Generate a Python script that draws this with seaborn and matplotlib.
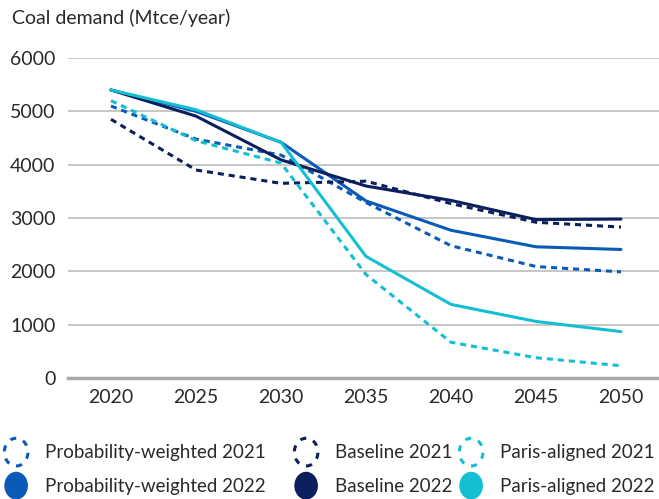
import matplotlib
matplotlib.use("Agg")
import matplotlib.pyplot as plt
import seaborn as sns
import pandas as pd
from matplotlib.patches import Ellipse
from matplotlib.legend_handler import HandlerPatch
import matplotlib.patches as mpatches

years = [2020, 2025, 2030, 2035, 2040, 2045, 2050]
prob_2021 = [5100, 4480, 4180, 3290, 2480, 2090, 1990]
prob_2022 = [5400, 5000, 4420, 3320, 2770, 2460, 2410]
base_2021 = [4850, 3900, 3650, 3690, 3270, 2920, 2830]
base_2022 = [5400, 4910, 4090, 3600, 3330, 2970, 2980]
paris_2021 = [5200, 4450, 4030, 1940, 670, 380, 230]
paris_2022 = [5400, 5030, 4420, 2280, 1380, 1060, 870]

scenarios = ["Probability-weighted", "Baseline", "Paris-aligned"]
colors = {"Probability-weighted": "#0A5BB8", "Baseline": "#0B1F5C", "Paris-aligned": "#14BFD3"}

rows = []
for sc, d21, d22 in [("Probability-weighted", prob_2021, prob_2022),
                     ("Baseline", base_2021, base_2022),
                     ("Paris-aligned", paris_2021, paris_2022)]:
    for y, v in zip(years, d21):
        rows.append({"year": y, "value": v, "scenario": sc, "edition": "2021"})
    for y, v in zip(years, d22):
        rows.append({"year": y, "value": v, "scenario": sc, "edition": "2022"})
df = pd.DataFrame(rows)

sns.set_style("white")
plt.rcParams["font.family"] = ["Lato", "DejaVu Sans"]
FS = 14

fig = plt.figure(figsize=(6.59, 4.99), dpi=100)
ax = fig.add_axes([68/659, 1-378/499, 1-68/659, (378-58)/499])

sns.lineplot(data=df, x="year", y="value", hue="scenario", style="edition",
             palette=colors, hue_order=scenarios,
             dashes={"2021": (2.0, 1.6), "2022": ""}, style_order=["2021", "2022"],
             linewidth=2.2, ax=ax, legend=False)

ax.set_xlim(2020 - 43/17, 2050 + 38/17)
ax.set_ylim(0, 6000)
ax.set_xticks(years)
ax.set_yticks([0, 1000, 2000, 3000, 4000, 5000, 6000])
ax.set_xlabel("")
ax.set_ylabel("")
ax.grid(axis="y", color="#bdbdbd", linewidth=1.2)
ax.set_axisbelow(True)
for s in ["top", "right", "left"]:
    ax.spines[s].set_visible(False)
ax.spines["bottom"].set_color("#a8a8a8")
ax.spines["bottom"].set_linewidth(2.5)
ax.tick_params(axis="both", length=0, labelsize=FS, colors="#2a2a2a")
ax.tick_params(axis="x", pad=8)
ax.tick_params(axis="y", pad=9)

fig.text(12/659, 1-18/499, "Coal demand (Mtce/year)", fontsize=FS,
         color="#2a2a2a", va="center", ha="left")


class HandlerCircle(HandlerPatch):
    def create_artists(self, legend, orig_handle, xdescent, ydescent, width, height, fontsize, trans):
        cx = 0.5 * width - xdescent
        cy = 0.5 * height - ydescent
        e = Ellipse((cx, cy), width=17, height=20)
        self.update_prop(e, orig_handle, legend)
        e.set_transform(trans)
        return [e]


col_left_px = [3, 293, 458]
for sc, xl in zip(scenarios, col_left_px):
    h21 = mpatches.Patch(facecolor="none", edgecolor=colors[sc], linestyle=(0, (2, 2.4)), linewidth=2.2)
    h22 = mpatches.Patch(facecolor=colors[sc], edgecolor=colors[sc], linewidth=0)
    hs = [h21, h22]
    leg = fig.legend(hs, [f"{sc} 2021", f"{sc} 2022"],
                     handler_map={h: HandlerCircle() for h in hs}, ncol=1,
                     loc="upper left", bbox_to_anchor=(xl/659, 1-441/499), frameon=False,
                     fontsize=13.5, handlelength=1.4, handleheight=1.45,
                     handletextpad=0.85, labelspacing=0.6,
                     borderaxespad=0, borderpad=0)
    for t in leg.get_texts():
        t.set_color("#2a2a2a")

fig.savefig("out.png", dpi=100)
